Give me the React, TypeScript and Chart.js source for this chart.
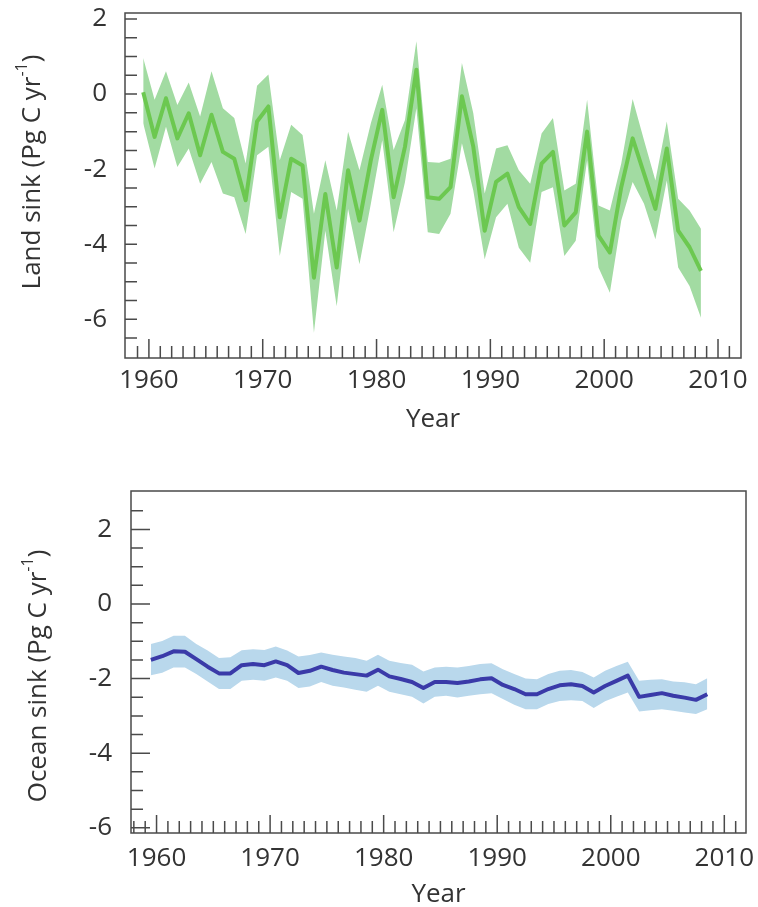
import React, { useEffect, useRef } from "react";
import { Chart, registerables } from "chart.js";

Chart.register(...registerables);

// ---------- data ----------
const years = [
  1959, 1960, 1961, 1962, 1963, 1964, 1965, 1966, 1967, 1968,
  1969, 1970, 1971, 1972, 1973, 1974, 1975, 1976, 1977, 1978,
  1979, 1980, 1981, 1982, 1983, 1984, 1985, 1986, 1987, 1988,
  1989, 1990, 1991, 1992, 1993, 1994, 1995, 1996, 1997, 1998,
  1999, 2000, 2001, 2002, 2003, 2004, 2005, 2006, 2007, 2008,
];

const landSink = [
  0.05, -1.14, -0.11, -1.18, -0.51, -1.63, -0.55, -1.54, -1.72, -2.83,
  -0.73, -0.33, -3.28, -1.72, -1.9, -4.89, -2.66, -4.62, -2.03, -3.37,
  -1.76, -0.42, -2.75, -1.4, 0.65, -2.75, -2.79, -2.48, -0.06, -1.4,
  -3.64, -2.34, -2.12, -3.01, -3.46, -1.85, -1.54, -3.5, -3.15, -1.0,
  -3.77, -4.22, -2.48, -1.18, -2.12, -3.06, -1.45, -3.64, -4.08, -4.71,
];
const landUpper = [
  0.96, -0.15, 0.61, -0.29, 0.31, -0.6, 0.61, -0.38, -0.64, -1.85,
  0.22, 0.52, -1.76, -0.82, -1.09, -3.19, -1.76, -3.1, -1.0, -2.03,
  -0.78, 0.25, -1.49, -0.69, 1.41, -1.81, -1.83, -1.72, 0.83, -0.51,
  -2.65, -1.45, -1.36, -2.03, -2.39, -1.05, -0.64, -2.57, -2.39, -0.15,
  -2.97, -3.1, -1.85, -0.13, -1.23, -2.3, -0.73, -2.79, -3.1, -3.59,
];
const landLower = [
  -0.78, -1.98, -0.87, -1.94, -1.45, -2.39, -1.81, -2.65, -2.75, -3.73,
  -1.63, -1.4, -4.31, -2.61, -2.79, -6.36, -3.64, -5.65, -3.06, -4.53,
  -2.92, -1.23, -3.68, -2.34, -0.38, -3.68, -3.73, -3.19, -1.31, -2.57,
  -4.4, -3.28, -2.92, -4.09, -4.49, -2.61, -2.48, -4.31, -3.91, -1.76,
  -4.62, -5.29, -3.37, -2.34, -2.92, -3.87, -2.3, -4.62, -5.11, -5.96,
];

const oceanSink = [
  -1.5, -1.4, -1.27, -1.28, -1.48, -1.68, -1.86, -1.86, -1.64, -1.61,
  -1.64, -1.54, -1.64, -1.85, -1.79, -1.68, -1.77, -1.84, -1.88, -1.92,
  -1.76, -1.94, -2.01, -2.09, -2.25, -2.09, -2.09, -2.12, -2.08, -2.02,
  -1.99, -2.17, -2.28, -2.42, -2.42, -2.28, -2.18, -2.15, -2.2, -2.37,
  -2.2, -2.06, -1.92, -2.49, -2.44, -2.39, -2.46, -2.51, -2.57, -2.42,
];
const oceanUpper = [
  -1.07, -0.99, -0.85, -0.85, -1.07, -1.25, -1.45, -1.43, -1.24, -1.21,
  -1.23, -1.14, -1.25, -1.41, -1.37, -1.3, -1.36, -1.41, -1.45, -1.52,
  -1.36, -1.52, -1.58, -1.63, -1.81, -1.7, -1.68, -1.7, -1.66, -1.61,
  -1.59, -1.75, -1.88, -2.0, -2.02, -1.88, -1.79, -1.77, -1.82, -1.97,
  -1.79, -1.66, -1.55, -2.06, -2.03, -2.02, -2.08, -2.1, -2.15, -1.99,
];
const oceanLower = [
  -1.91, -1.84, -1.7, -1.7, -1.88, -2.08, -2.28, -2.28, -2.06, -2.03,
  -2.06, -1.97, -2.06, -2.25, -2.21, -2.09, -2.19, -2.24, -2.3, -2.35,
  -2.19, -2.35, -2.42, -2.49, -2.67, -2.49, -2.46, -2.51, -2.46, -2.42,
  -2.39, -2.55, -2.7, -2.82, -2.82, -2.68, -2.6, -2.58, -2.6, -2.79,
  -2.61, -2.49, -2.37, -2.88, -2.85, -2.82, -2.86, -2.91, -2.95, -2.82,
];

const xTickLabels = [1960, 1970, 1980, 1990, 2000, 2010];
const yTickLabels = [-6, -4, -2, 0, 2];
const xTitle = "Year";

// ---------- styling ----------
const FONT = "'Open Sans', sans-serif";
const TEXT = "#333333";
const AXIS = "#4a4a4a";
const FONT_SIZE = 26;

function drawYTitle(ctx: CanvasRenderingContext2D, cx: number, cy: number, main: string, sup: string, tail: string) {
  ctx.save();
  ctx.translate(cx, cy);
  ctx.rotate(-Math.PI / 2);
  ctx.fillStyle = TEXT;
  ctx.textBaseline = "middle";
  ctx.textAlign = "left";
  const f = `${FONT_SIZE}px ${FONT}`;
  const fs = `${Math.round(FONT_SIZE * 0.62)}px ${FONT}`;
  ctx.font = f;
  const w1 = ctx.measureText(main).width;
  const w3 = ctx.measureText(tail).width;
  ctx.font = fs;
  const w2 = ctx.measureText(sup).width;
  const x0 = -(w1 + w2 + w3) / 2;
  ctx.font = f;
  ctx.fillText(main, x0, 0);
  ctx.font = fs;
  ctx.fillText(sup, x0 + w1, -FONT_SIZE * 0.42);
  ctx.font = f;
  ctx.fillText(tail, x0 + w1 + w2, 0);
  ctx.restore();
}

const framePlugin = {
  id: "frame",
  afterDatasetsDraw(chart: any, _args: any, opts: any) {
    const { ctx, chartArea, scales } = chart;
    const { left, right, top, bottom } = chartArea;
    const x = scales.x;
    const y = scales.y;
    ctx.save();
    ctx.strokeStyle = AXIS;
    ctx.lineWidth = 1.5;
    ctx.beginPath();
    // x ticks (every year, inward)
    for (let yr = Math.ceil(x.min); yr <= x.max; yr++) {
      const px = x.getPixelForValue(yr);
      if (px - left < 2 || right - px < 2) continue;
      const len = yr % 10 === 0 ? opts.xMajor : opts.xMinor;
      ctx.moveTo(px, bottom);
      ctx.lineTo(px, bottom - len);
    }
    // y ticks (every 0.5, inward)
    for (let v = Math.ceil(y.min * 2) / 2; v <= y.max; v += 0.5) {
      const py = y.getPixelForValue(v);
      if (py - top < 2 || bottom - py < 2) continue;
      const len = Math.abs(v % 2) < 1e-6 ? opts.yMajor : opts.yMinor;
      ctx.moveTo(left, py);
      ctx.lineTo(left + len, py);
    }
    ctx.stroke();
    ctx.strokeRect(left, top, right - left, bottom - top);
    ctx.restore();
    drawYTitle(ctx, opts.titleX, opts.titleY, opts.titleMain, opts.titleSup, opts.titleTail);
  },
};

type Panel = {
  values: number[];
  upper: number[];
  lower: number[];
  lineColor: string;
  bandColor: string;
  xMin: number;
  xMax: number;
  yMin: number;
  yMax: number;
  padding: { top: number; right: number; left: number; bottom: number };
  yAxisWidth: number;
  xAxisHeight: number;
  xTickPad: number;
  yTickPad: number;
  xTitlePad: number;
  frame: any;
};

function buildChart(canvas: HTMLCanvasElement, p: Panel) {
  // values are annual means, plotted at mid-year
  const pts = (vals: number[]) => years.map((yr, i) => ({ x: yr + 0.5, y: vals[i] }));
  const font = { family: FONT, size: FONT_SIZE };
  return new Chart(canvas, {
    type: "line",
    data: {
      datasets: [
        {
          data: pts(p.values),
          borderColor: p.lineColor,
          borderWidth: 4,
          pointRadius: 0,
          fill: false,
          tension: 0,
          borderJoinStyle: "round",
        },
        {
          data: pts(p.upper),
          borderColor: "rgba(0,0,0,0)",
          borderWidth: 0,
          pointRadius: 0,
          backgroundColor: p.bandColor,
          fill: "+1",
          tension: 0,
        },
        {
          data: pts(p.lower),
          borderColor: "rgba(0,0,0,0)",
          borderWidth: 0,
          pointRadius: 0,
          fill: false,
          tension: 0,
        },
      ],
    } as any,
    options: {
      responsive: false,
      animation: false,
      events: [],
      layout: { padding: p.padding },
      plugins: {
        legend: { display: false },
        tooltip: { enabled: false },
        frame: p.frame,
      } as any,
      scales: {
        x: {
          type: "linear",
          min: p.xMin,
          max: p.xMax,
          grid: { display: false, drawTicks: false },
          border: { display: false },
          afterBuildTicks: (s: any) => {
            s.ticks = xTickLabels.map((v) => ({ value: v }));
          },
          afterFit: (s: any) => {
            s.height = p.xAxisHeight;
            s.paddingLeft = 0;
            s.paddingRight = 0;
          },
          ticks: {
            padding: p.xTickPad,
            color: TEXT,
            font,
            maxRotation: 0,
            autoSkip: false,
            callback: (v: any) => String(v),
          },
          title: {
            display: true,
            text: xTitle,
            color: TEXT,
            font,
            padding: { top: 0, bottom: p.xTitlePad },
          },
        },
        y: {
          type: "linear",
          min: p.yMin,
          max: p.yMax,
          grid: { display: false, drawTicks: false },
          border: { display: false },
          afterBuildTicks: (s: any) => {
            s.ticks = yTickLabels.map((v) => ({ value: v }));
          },
          afterFit: (s: any) => {
            s.width = p.yAxisWidth;
            s.paddingTop = 0;
            s.paddingBottom = 0;
          },
          ticks: {
            padding: p.yTickPad,
            color: TEXT,
            font,
            autoSkip: false,
            callback: (v: any) => String(v),
          },
        },
      },
    } as any,
    plugins: [framePlugin as any],
  });
}

export default function App() {
  const topRef = useRef<HTMLCanvasElement>(null);
  const botRef = useRef<HTMLCanvasElement>(null);

  useEffect(() => {
    const c1 = buildChart(topRef.current!, {
      values: landSink,
      upper: landUpper,
      lower: landLower,
      lineColor: "#6cc850",
      bandColor: "#a2dba2",
      xMin: 1957.9,
      xMax: 2012.02,
      yMin: -7.03,
      yMax: 2.16,
      padding: { top: 13, right: 17, left: 0, bottom: 0 },
      yAxisWidth: 125,
      xAxisHeight: 92,
      xTickPad: 7,
      yTickPad: 18,
      xTitlePad: 15,
      frame: {
        xMajor: 19,
        xMinor: 12,
        yMajor: 12,
        yMinor: 12,
        titleX: 33,
        titleY: 172,
        titleMain: "Land sink (Pg C yr",
        titleSup: "-1",
        titleTail: ")",
      },
    });
    const c2 = buildChart(botRef.current!, {
      values: oceanSink,
      upper: oceanUpper,
      lower: oceanLower,
      lineColor: "#3a3aa8",
      bandColor: "#b9d8ec",
      xMin: 1957.75,
      xMax: 2011.91,
      yMin: -6.14,
      yMax: 3.03,
      padding: { top: 41, right: 12, left: 0, bottom: 0 },
      yAxisWidth: 131,
      xAxisHeight: 74,
      xTickPad: 10,
      yTickPad: 19,
      xTitlePad: -3,
      frame: {
        xMajor: 18,
        xMinor: 12,
        yMajor: 19,
        yMinor: 12,
        titleX: 39,
        titleY: 226,
        titleMain: "Ocean sink (Pg C yr",
        titleSup: "-1",
        titleTail: ")",
      },
    });
    return () => {
      c1.destroy();
      c2.destroy();
    };
  }, []);

  return (
    <div style={{ position: "absolute", left: 0, top: 0, width: 758, height: 907, background: "#ffffff" }}>
      <canvas ref={topRef} width={758} height={450} style={{ position: "absolute", left: 0, top: 0 }} />
      <canvas ref={botRef} width={758} height={457} style={{ position: "absolute", left: 0, top: 450 }} />
    </div>
  );
}
